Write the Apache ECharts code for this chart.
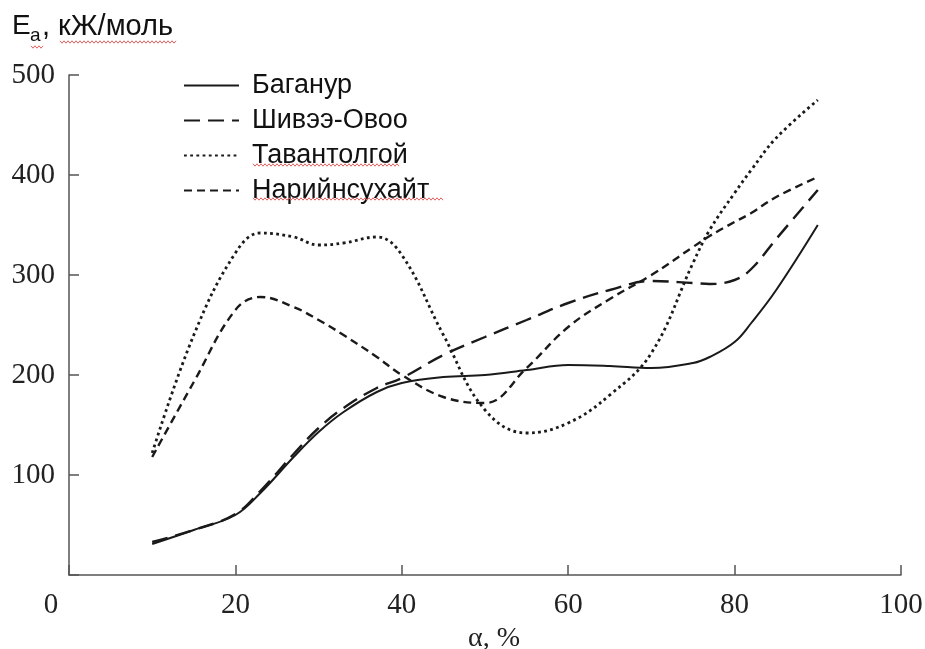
<!DOCTYPE html>
<html>
<head>
<meta charset="utf-8">
<script src="https://cdn.jsdelivr.net/npm/echarts@6/dist/echarts.min.js"></script>
<style>
html,body{margin:0;padding:0;background:#fff;}
#chart{width:925px;height:649px;}
</style>
</head>
<body>
<div id="chart"></div>
<script>
const alpha = [10, 15, 20, 23, 27, 30, 33, 37, 40, 45, 50, 55, 60, 65, 70, 75, 77, 80, 82, 85, 90];
const baganuur     = [31, 45, 60, 82, 118, 143, 163, 183, 192, 198, 200, 205, 210, 209, 207, 212, 218, 233, 252, 285, 350];
const shiveeOvoo   = [33, 45, 61, 84, 121, 147, 167, 187, 197, 220, 238, 255, 272, 285, 294, 292, 291, 295, 306, 336, 385];
const tavantolgoi  = [122, 240, 322, 342, 338, 330, 332, 338, 320, 240, 165, 142, 152, 180, 222, 312, 345, 382, 405, 437, 475];
const nariinsukhait= [118, 193, 265, 278, 268, 255, 240, 218, 200, 178, 172, 207, 248, 276, 300, 328, 339, 353, 362, 378, 398];
const seriesNames = ['Баганур', 'Шивээ-Овоо', 'Тавантолгой', 'Нарийнсухайт'];
const xTicks = [0, 20, 40, 60, 80, 100];
const yTicks = [0, 100, 200, 300, 400, 500];

const pairs = arr => alpha.map((a, i) => [a, arr[i]]);
const styles = [
  {type: 'solid', width: 2},
  {type: [16, 8], width: 2.4},
  {type: [2.8, 3.4], width: 2.8},
  {type: [8, 5], width: 2.4}
];
const datasets = [baganuur, shiveeOvoo, tavantolgoi, nariinsukhait];

function squiggle(x0, x1, y) {
  const pts = [];
  let up = true;
  for (let x = x0; x <= x1; x += 2) { pts.push([x, up ? y - 1.2 : y + 1.2]); up = !up; }
  return {type: 'polyline', shape: {points: pts}, style: {stroke: '#e06060', lineWidth: 1, fill: null}, silent: true, z: 10};
}

const chart = echarts.init(document.getElementById('chart'));
chart.setOption({
  animation: false,
  backgroundColor: '#fff',
  grid: {left: 69, right: 24, top: 75, bottom: 74, containLabel: false, outerBoundsMode: 'none'},
  xAxis: {
    type: 'value', min: 0, max: 100, interval: 20,
    name: 'α, %', nameLocation: 'middle', nameGap: 50,
    nameTextStyle: {fontFamily: 'Liberation Serif', fontSize: 28, color: '#222', padding: [0, 0, 0, 18]},
    axisLine: {show: true, lineStyle: {color: '#555', width: 1.5}},
    axisTick: {show: true, inside: true, length: 10, lineStyle: {color: '#555', width: 1.5}},
    splitLine: {show: false},
    axisLabel: {
      fontFamily: 'Liberation Serif', fontSize: 29, color: '#222', margin: 16,
      formatter: v => v === 0 ? '{z|0}' : String(v),
      rich: {z: {fontFamily: 'Liberation Serif', fontSize: 29, color: '#222', padding: [0, 36, 0, 0]}}
    }
  },
  yAxis: {
    type: 'value', min: 0, max: 500, interval: 100,
    axisLine: {show: true, lineStyle: {color: '#555', width: 1.5}},
    axisTick: {show: true, inside: true, length: 10, lineStyle: {color: '#555', width: 1.5}},
    splitLine: {show: false},
    axisLabel: {
      fontFamily: 'Liberation Serif', fontSize: 29, color: '#222', margin: 14,
      formatter: v => v === 0 ? '' : String(v)
    }
  },
  legend: {
    show: true,
    orient: 'vertical', left: 178, top: 67,
    itemWidth: 55, itemHeight: 14, itemGap: 8,
    itemStyle: {opacity: 0},
    textStyle: {fontFamily: 'Liberation Sans', fontSize: 27, color: '#111', lineHeight: 26, padding: [0, 0, 0, 8]},
    data: seriesNames
  },
  graphic: [
    {type: 'text', left: 12, top: 12, style: {text: 'E', fontFamily: 'Liberation Sans', fontSize: 28, fill: '#111'}},
    {type: 'text', left: 30, top: 26, style: {text: 'a', fontFamily: 'Liberation Sans', fontSize: 19, fill: '#111'}},
    {type: 'text', left: 42, top: 12, style: {text: ', кЖ/моль', fontFamily: 'Liberation Sans', fontSize: 29, fill: '#111'}},
    squiggle(31, 43, 47),
    squiggle(60, 177, 42),
    squiggle(253, 400, 165),
    squiggle(253, 443, 199)
  ],
  series: datasets.map((d, i) => ({
    name: seriesNames[i],
    type: 'line',
    data: pairs(d),
    smooth: 0.4,
    showSymbol: false,
    symbol: 'none',
    color: '#1a1a1a',
    lineStyle: Object.assign({color: '#1a1a1a'}, styles[i])
  }))
});
</script>
</body>
</html>
